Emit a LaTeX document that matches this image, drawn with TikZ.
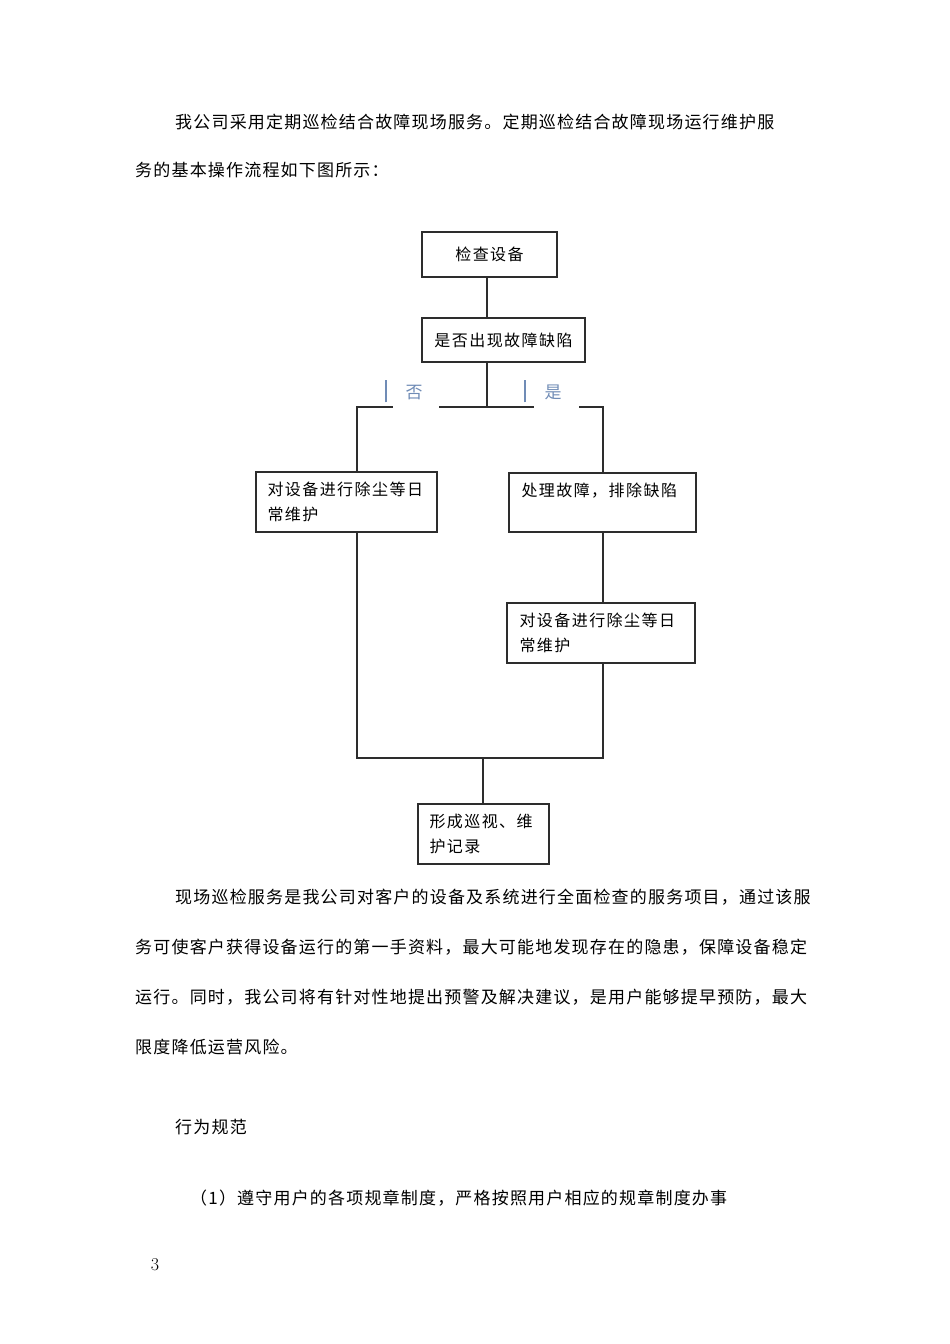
\documentclass[tikz,border=0pt]{standalone}
\usepackage{fontspec}
\newfontfamily\bodyfont[LetterSpace=7]{Noto Sans CJK SC}
\newfontfamily\boxfont[LetterSpace=9]{Noto Sans CJK SC}
\usetikzlibrary{positioning,calc}
\definecolor{lblblue}{RGB}{112,140,182}
\definecolor{linegray}{RGB}{45,45,45}
\tikzset{
  flowbox/.style={rectangle,draw=linegray,line width=1.3pt,inner sep=0pt,
    font=\boxfont\fontsize{16}{25}\selectfont},
  txtbox/.style={flowbox,align=left,text width=#1},
  conn/.style={draw=linegray,line width=1.3pt},
  lbl/.style={inner sep=0pt,anchor=west,text=lblblue,font=\boxfont\fontsize{17}{20}\selectfont},
  bodyline/.style={anchor=west,inner sep=0pt,font=\bodyfont\fontsize{17}{20}\selectfont}
}
\begin{document}
\begin{tikzpicture}[x=1pt,y=-1pt]
  \useasboundingbox[fill=white] (0,0) rectangle (950,1344);
  % text above the chart
  \node[bodyline] (p1a) at (175,122) {我公司采用定期巡检结合故障现场服务。定期巡检结合故障现场运行维护服};
  \node[bodyline] (p1b) at (135,170) {务的基本操作流程如下图所示：};
  % chart
  \node[flowbox,minimum width=135pt,minimum height=45pt] (check) at (489.5,254.5) {检查设备};
  \node[flowbox,line width=1.9pt,minimum width=163pt,minimum height=44pt] (judge) at (503.5,340) {是否出现故障缺陷};
  \coordinate (split) at (487,407);\coordinate (lt) at (357,407);\coordinate (rt) at (603,407);
  \coordinate (merge) at (483,758);
  \node[lbl] (no) at (385,391) {\rule[-.22em]{1.8pt}{1.35em}\hspace{1.1em}否};
  \node[lbl] (yes) at (524,391) {\rule[-.22em]{1.8pt}{1.35em}\hspace{1.1em}是};
  \node[txtbox=158pt,minimum width=181pt,minimum height=60pt] (lbox) at (346.5,502) {对设备进行除尘等日\\常维护};
  \node[txtbox=162pt,minimum width=187pt,minimum height=59pt] (rbox) at (602.5,502.5) {处理故障，排除缺陷\\~};
  \node[txtbox=163pt,minimum width=188pt,minimum height=60pt] (rbox2) at (601,633) {对设备进行除尘等日\\常维护};
  \node[txtbox=108pt,minimum width=131pt,minimum height=60pt] (rec) at (483.5,834) {形成巡视、维\\护记录};
  \draw[conn] (check.south -| split) -- (judge.north -| split);
  \draw[conn] (judge.south -| split) -- (split);
  \draw[conn] (lbox.north -| lt) -- (lt) -- ($(lt)+(36,0)$);
  \draw[conn] ($(lt)+(82,0)$) -- ($(rt)+(-69,0)$);
  \draw[conn] ($(rt)+(-24,0)$) -- (rt) -- (rbox.north -| rt);
  \draw[conn] (rbox.south -| rt) -- (rbox2.north -| rt);
  \draw[conn] (rbox2.south -| rt) -- (rt |- merge) -- (lt |- merge) -- (lbox.south -| lt);
  \draw[conn] (merge) -- (rec.north -| merge);
  % text below the chart
  \node[bodyline] (p2a) at (175,897) {现场巡检服务是我公司对客户的设备及系统进行全面检查的服务项目，通过该服};
  \node[bodyline] (p2b) at (135,947) {务可使客户获得设备运行的第一手资料，最大可能地发现存在的隐患，保障设备稳定};
  \node[bodyline] (p2c) at (135,997) {运行。同时，我公司将有针对性地提出预警及解决建议，是用户能够提早预防，最大};
  \node[bodyline] (p2d) at (135,1047) {限度降低运营风险。};
  \node[bodyline] (p3) at (175,1127) {行为规范};
  \node[bodyline] (p4) at (190,1198) {（1）遵守用户的各项规章制度，严格按照用户相应的规章制度办事};
  \node[anchor=center,inner sep=0pt,font=\fontsize{18}{20}\selectfont] (pg) at (155,1265) {3};
\end{tikzpicture}
\end{document}
